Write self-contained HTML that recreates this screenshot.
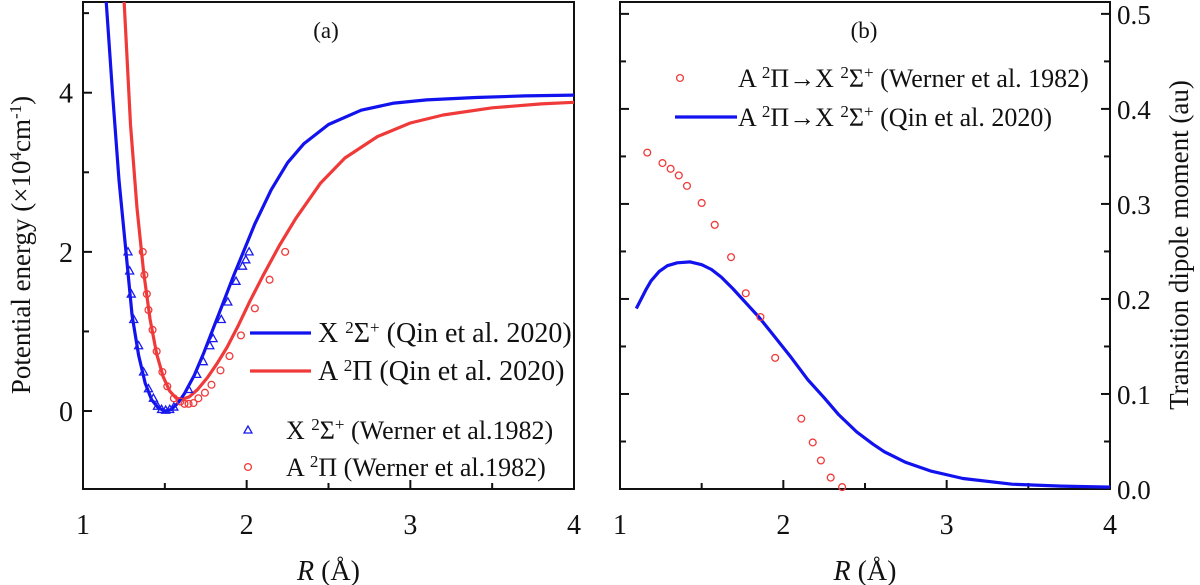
<!DOCTYPE html>
<html><head><meta charset="utf-8">
<style>
body{margin:0;background:#fff;}
svg{display:block;font-family:"Liberation Serif",serif;}
</style></head>
<body>
<svg id="c" width="1200" height="585" viewBox="0 0 1200 585"></svg>
<script>
// Panel (a) data
const xBlueLine=[1.14,1.18,1.22,1.26,1.30,1.34,1.38,1.42,1.46,1.50,1.54,1.58,1.62,1.68,1.74,1.80,1.86,1.92,1.98,2.05,2.15,2.25,2.35,2.5,2.7,2.9,3.1,3.4,3.7,4.0];
const yBlueLine=[5.2,4.0,2.9,2.05,1.2,0.7,0.35,0.14,0.04,0.0,0.02,0.1,0.22,0.45,0.74,1.06,1.38,1.7,2.0,2.35,2.78,3.12,3.36,3.6,3.78,3.87,3.91,3.94,3.96,3.97];
const xRedLine=[1.25,1.29,1.33,1.37,1.41,1.45,1.49,1.53,1.57,1.61,1.65,1.70,1.76,1.82,1.88,1.95,2.02,2.10,2.2,2.3,2.45,2.6,2.8,3.0,3.2,3.5,3.8,4.0];
const yRedLine=[5.2,3.6,2.55,1.75,1.15,0.72,0.43,0.25,0.16,0.15,0.18,0.27,0.42,0.6,0.8,1.08,1.38,1.7,2.08,2.42,2.86,3.18,3.45,3.62,3.72,3.81,3.86,3.88];
const xBlueTri=[1.275,1.285,1.295,1.31,1.34,1.37,1.40,1.43,1.455,1.48,1.505,1.53,1.555,1.645,1.695,1.735,1.775,1.795,1.845,1.885,1.935,1.975,1.995,2.015];
const yBlueTri=[2.0,1.76,1.47,1.15,0.82,0.49,0.28,0.16,0.06,0.02,0.01,0.02,0.05,0.27,0.46,0.62,0.82,0.91,1.15,1.37,1.63,1.82,1.9,2.0];
const xRedCirc=[1.365,1.375,1.39,1.40,1.425,1.45,1.485,1.515,1.555,1.595,1.62,1.645,1.675,1.705,1.745,1.785,1.84,1.895,1.965,2.05,2.14,2.235];
const yRedCirc=[2.0,1.71,1.47,1.27,1.02,0.75,0.49,0.31,0.16,0.12,0.09,0.09,0.1,0.16,0.23,0.33,0.51,0.69,0.95,1.29,1.65,2.0];
// Panel (b) data
const xTdmLine=[1.1,1.13,1.16,1.19,1.24,1.29,1.35,1.43,1.5,1.56,1.62,1.69,1.76,1.85,1.93,2.05,2.15,2.25,2.34,2.45,2.55,2.62,2.75,2.9,3.1,3.4,3.7,4.0];
const yTdmLine=[0.19,0.2,0.21,0.219,0.229,0.235,0.238,0.239,0.236,0.231,0.223,0.211,0.198,0.181,0.164,0.138,0.115,0.096,0.078,0.06,0.047,0.039,0.028,0.019,0.011,0.005,0.003,0.002];
const xTdmCirc=[1.167,1.26,1.31,1.36,1.41,1.50,1.58,1.68,1.77,1.86,1.95,2.11,2.18,2.23,2.29,2.36];
const yTdmCirc=[0.354,0.343,0.337,0.330,0.319,0.301,0.278,0.244,0.206,0.181,0.138,0.074,0.049,0.030,0.012,0.002];
const xTicks=["1","2","3","4"];
const yTicksA=["0","2","4"];
const yTicksB=["0.0","0.1","0.2","0.3","0.4","0.5"];

const NS="http://www.w3.org/2000/svg";
const svg=document.getElementById('c');
function mk(t,a,p){const e=document.createElementNS(NS,t);for(const k in a)e.setAttribute(k,a[k]);(p||svg).appendChild(e);return e;}
const TOP=2,BOT=489;
const axA={x0:83,x1:574,ymin:-0.98,ymax:5.14};
const axB={x0:620,x1:1110,ymin:0,ymax:0.5125};
function sx(ax,v){return ax.x0+(v-1)/3*(ax.x1-ax.x0);}
function sy(ax,v){return BOT-(v-ax.ymin)/(ax.ymax-ax.ymin)*(BOT-TOP);}
function clip(id,ax){const d=mk('defs',{});const cp=mk('clipPath',{id:id},d);mk('rect',{x:ax.x0,y:TOP,width:ax.x1-ax.x0,height:BOT-TOP},cp);}
clip('ca',axA);clip('cb',axB);
function line(ax,xs,ys,col,name,cid){
  let d='';xs.forEach((x,i)=>{d+=(i?'L':'M')+sx(ax,x).toFixed(1)+','+sy(ax,ys[i]).toFixed(1);});
  const p=mk('path',{d:d,fill:'none',stroke:col,'stroke-width':3.2,'stroke-linejoin':'round','clip-path':'url(#'+cid+')'});
  
  
}
function circles(ax,xs,ys,name){
  const g=mk('g',{});
  
  
  xs.forEach((x,i)=>{mk('circle',{cx:sx(ax,x),cy:sy(ax,ys[i]),r:3.4,fill:'none',stroke:'#f03a3a','stroke-width':1.3},g);});
}
function tris(ax,xs,ys,name){
  const g=mk('g',{});
  
  
  xs.forEach((x,i)=>{const cx=sx(ax,x),cy=sy(ax,ys[i]);
    mk('polygon',{points:`${cx},${cy-4.2} ${cx-4},${cy+3} ${cx+4},${cy+3}`,fill:'none',stroke:'#1a1aee','stroke-width':1.3},g);});
}
function text(x,y,str,name,opt){
  const t=mk('text',Object.assign({x:x,y:y,'font-size':26,fill:'#111'},opt||{}));
  t.innerHTML=str;
  
  
  return t;
}
function frame(ax,name){
  const r=mk('rect',{x:ax.x0,y:TOP,width:ax.x1-ax.x0,height:BOT-TOP,fill:'none',stroke:'#111','stroke-width':2});
  
  
  for(let v=1;v<=4.001;v+=0.5){const x=sx(ax,v);mk('line',{x1:x,x2:x,y1:BOT,y2:BOT-(v%1===0?9:6),stroke:'#111','stroke-width':2});}
}
frame(axA,'panel-a-frame');frame(axB,'panel-b-frame');
[axA,axB].forEach((ax,k)=>{xTicks.forEach((s,i)=>{text(sx(ax,+s),534,s,'x-tick-label-'+(k?'b':'a')+'-'+s,{'font-size':28,'text-anchor':'middle'});});
  text((ax.x0+ax.x1)/2,580,'<tspan font-style="italic">R</tspan> (Å)','x-axis-title-'+(k?'b':'a'),{'font-size':28,'text-anchor':'middle'});});
for(let v=-1;v<=5;v++){const y=sy(axA,v);if(y<TOP||y>BOT)continue;mk('line',{x1:axA.x0,x2:axA.x0+(v%2===0?9:6),y1:y,y2:y,stroke:'#111','stroke-width':2});}
yTicksA.forEach(s=>{text(axA.x0-10,sy(axA,+s)+10,s,'y-tick-label-a-'+s,{'font-size':28,'text-anchor':'end'});});
const sup=(s)=>`<tspan font-size="17" baseline-shift="55%">${s}</tspan>`;
text(0,0,'Potential energy (×10'+sup('4')+'cm'+sup('-1')+')','y-axis-title-a',{'font-size':27,'text-anchor':'middle',transform:'translate(30,245) rotate(-90)'});
for(let v=0;v<=0.5001;v+=0.05){const y=sy(axB,v);const big=Math.round(v*100)%10===0;
  mk('line',{x1:axB.x0,x2:axB.x0+(big?9:6),y1:y,y2:y,stroke:'#111','stroke-width':2});
  mk('line',{x1:axB.x1,x2:axB.x1-(big?9:6),y1:y,y2:y,stroke:'#111','stroke-width':2});}
yTicksB.forEach(s=>{text(axB.x1+7,sy(axB,+s)+10,s,'y-tick-label-b-'+s,{'font-size':27});});
text(0,0,'Transition dipole moment (au)','y-axis-title-b',{'font-size':27,'text-anchor':'middle',transform:'translate(1188,245) rotate(-90)'});
line(axA,xRedLine,yRedLine,'#f03a3a','a-state-line','ca');
line(axA,xBlueLine,yBlueLine,'#1212ee','x-state-line','ca');
tris(axA,xBlueTri,yBlueTri,'x-state-werner-markers');
circles(axA,xRedCirc,yRedCirc,'a-state-werner-markers');
line(axB,xTdmLine,yTdmLine,'#1212ee','tdm-qin-line','cb');
circles(axB,xTdmCirc,yTdmCirc,'tdm-werner-markers');
text(326,38,'(a)','panel-a-label',{'text-anchor':'middle','font-size':23});
text(864,38,'(b)','panel-b-label',{'text-anchor':'middle','font-size':23});
mk('line',{x1:250,x2:311,y1:333,y2:333,stroke:'#1212ee','stroke-width':3.2});
text(318,342,'X '+sup('2')+'Σ'+sup('+')+' (Qin et al. 2020)','legend-x-qin',{'font-size':28});
mk('line',{x1:250,x2:311,y1:371,y2:371,stroke:'#f03a3a','stroke-width':3.2});
text(318,380,'A '+sup('2')+'Π (Qin et al. 2020)','legend-a-qin',{'font-size':28});
mk('polygon',{points:'248,426 244,433 252,433',fill:'none',stroke:'#1a1aee','stroke-width':1.3});
text(286,439,'X '+sup('2')+'Σ'+sup('+')+' (Werner et al.1982)','legend-x-werner');
mk('circle',{cx:248,cy:467,r:3.4,fill:'none',stroke:'#f03a3a','stroke-width':1.3});
text(286,476,'A '+sup('2')+'Π (Werner et al.1982)','legend-a-werner');
mk('circle',{cx:680,cy:78,r:3.4,fill:'none',stroke:'#f03a3a','stroke-width':1.3});
text(738,87,'A '+sup('2')+'Π→X '+sup('2')+'Σ'+sup('+')+' (Werner et al. 1982)','legend-tdm-werner');
mk('line',{x1:675,x2:737,y1:117,y2:117,stroke:'#1212ee','stroke-width':3.2});
text(738,126,'A '+sup('2')+'Π→X '+sup('2')+'Σ'+sup('+')+' (Qin et al. 2020)','legend-tdm-qin');
</script>
</body></html>
